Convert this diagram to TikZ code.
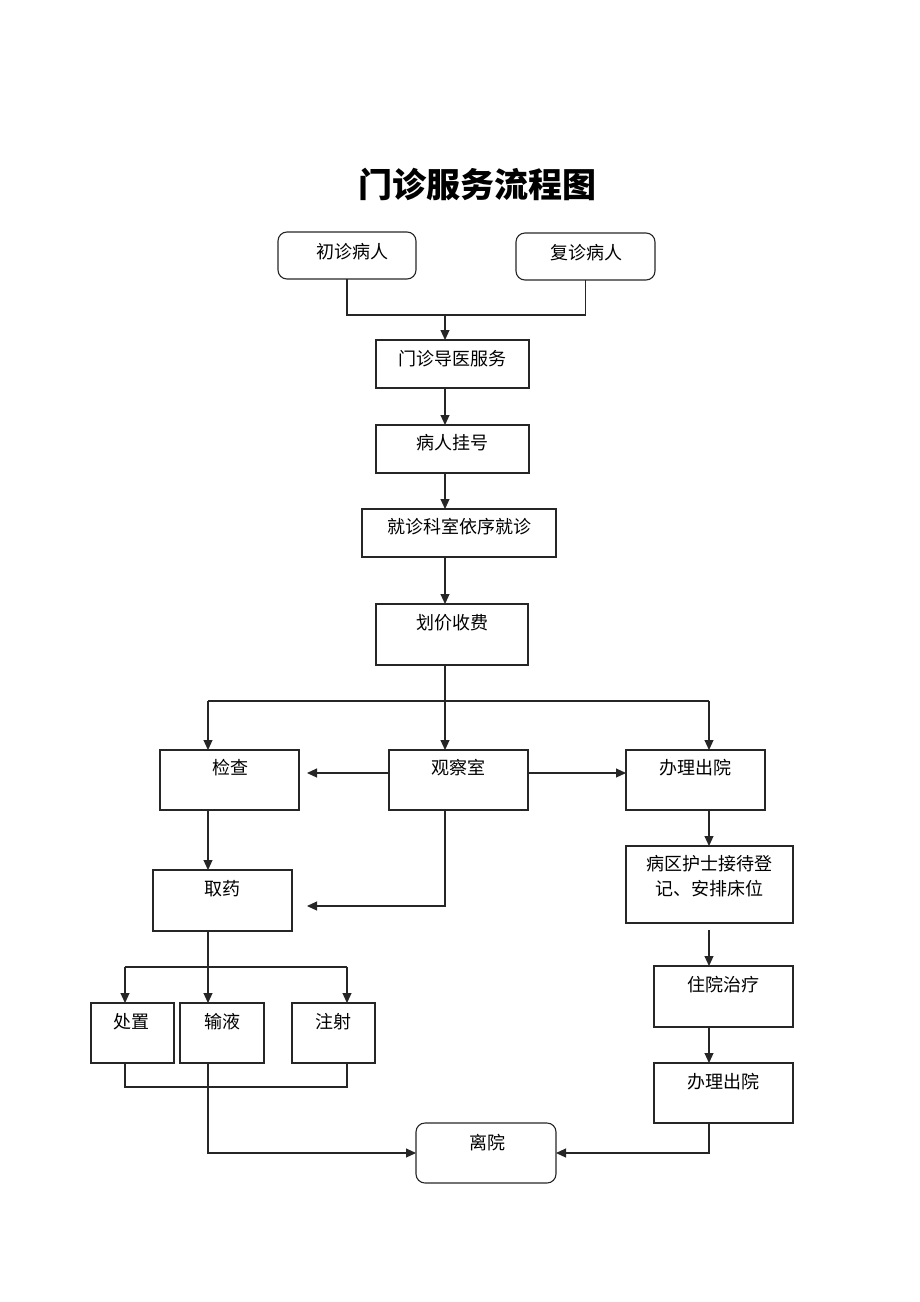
\documentclass[tikz,border=0pt]{standalone}
\usepackage{fontspec}
\newfontfamily\cjk{Noto Sans CJK SC}
\usetikzlibrary{arrows.meta}
\begin{document}
\begin{tikzpicture}[x=1pt,y=-1pt,
  box/.style={draw=black!85,line width=1.1pt,inner sep=0pt,outer sep=0pt,minimum width=#1},
  rbox/.style={box=#1,rounded corners=9pt},
  txt/.style={font=\cjk\fontsize{18}{24}\selectfont,inner sep=0pt,align=center},
  ln/.style={draw=black!85,line width=1.1pt},
  arr/.style={ln,-{Triangle[length=10pt,width=9pt]}}]
\useasboundingbox (0,0) rectangle (920,1302);
% title
\node[font=\cjk\bfseries\fontsize{34}{40}\selectfont,inner sep=0pt] (title) at (477,184) {门诊服务流程图};
% boxes
\node[rbox=138pt,minimum height=47pt] (cz) at (347,255.5) {};
\node[txt] (czt) at (352,252) {初诊病人};
\node[rbox=139pt,minimum height=47pt] (fz) at (585.5,256.5) {};
\node[txt] (fzt) at (586,253) {复诊病人};
\node[box=153pt,minimum height=48pt] (dy) at (452.5,364) {};
\node[txt] (dyt) at (452,359) {门诊导医服务};
\node[box=153pt,minimum height=48pt] (gh) at (452.5,449) {};
\node[txt] (ght) at (452,443) {病人挂号};
\node[box=194pt,minimum height=48pt] (jz) at (459,533) {};
\node[txt] (jzt) at (459,527) {就诊科室依序就诊};
\node[box=152pt,minimum height=61pt] (hj) at (452,634.5) {};
\node[txt] (hjt) at (452,623) {划价收费};
\node[box=139pt,minimum height=60pt] (jc) at (229.5,780) {};
\node[txt] (jct) at (230,768) {检查};
\node[box=139pt,minimum height=60pt] (gc) at (458.5,780) {};
\node[txt] (gct) at (458,768) {观察室};
\node[box=139pt,minimum height=60pt] (bl) at (695.5,780) {};
\node[txt] (blt) at (695,768) {办理出院};
\node[box=139pt,minimum height=61pt] (qy) at (222.5,900.5) {};
\node[txt] (qyt) at (222,889) {取药};
\node[box=167pt,minimum height=77pt] (bq) at (709.5,884.5) {};
\node[txt,font=\cjk\fontsize{18}{25}\selectfont] (bqt) at (709,876) {病区护士接待登\\记、安排床位};
\node[box=139pt,minimum height=61pt] (zy) at (723.5,996.5) {};
\node[txt] (zyt) at (723,985) {住院治疗};
\node[box=139pt,minimum height=60pt] (bl2) at (723.5,1093) {};
\node[txt] (bl2t) at (723,1082) {办理出院};
\node[box=83pt,minimum height=60pt] (cu) at (132.5,1033) {};
\node[txt] (cut) at (131,1022) {处置};
\node[box=84pt,minimum height=60pt] (sy) at (222,1033) {};
\node[txt] (syt) at (222,1022) {输液};
\node[box=83pt,minimum height=60pt] (zs) at (333.5,1033) {};
\node[txt] (zst) at (333,1022) {注射};
\node[rbox=140pt,minimum height=60pt] (ly) at (486,1153) {};
\node[txt] (lyt) at (487,1143) {离院};
% junctions
\coordinate (j1) at (445,315);
\coordinate (j2) at (445,701);
\coordinate (jL) at (208,701);
\coordinate (jR) at (709,701);
\coordinate (jcE) at (307,773);
\coordinate (qyE) at (307,906);
\coordinate (j3) at (208,967);
\coordinate (j4) at (208,1087);
\coordinate (bqS) at (709,930);
\coordinate (cuX) at (125,967);
\coordinate (zsX) at (347,967);
% connectors
\draw[ln] (cz.south) |- (j1) -| (fz.south);
\draw[arr] (j1) -- (j1 |- dy.north);
\draw[arr] (j1 |- dy.south) -- (j1 |- gh.north);
\draw[arr] (j1 |- gh.south) -- (j1 |- jz.north);
\draw[arr] (j1 |- jz.south) -- (j1 |- hj.north);
\draw[arr] (j1 |- hj.south) -- (j1 |- gc.north);
\draw[ln] (jL) -- (jR);
\draw[arr] (jL) -- (jL |- jc.north);
\draw[arr] (jR) -- (jR |- bl.north);
\draw[arr] (gc.west |- jcE) -- (jcE);
\draw[arr] (gc.east |- jcE) -- (bl.west |- jcE);
\draw[arr] (jL |- jc.south) -- (jL |- qy.north);
\draw[arr] (j2 |- gc.south) |- (qyE);
\draw[arr] (jR |- bl.south) -- (jR |- bq.north);
\draw[arr] (bqS) -- (bqS |- zy.north);
\draw[arr] (bqS |- zy.south) -- (bqS |- bl2.north);
\draw[arr] (bqS |- bl2.south) |- (ly.east);
\draw[ln] (j3 |- qy.south) -- (j3);
\draw[ln] (cuX) -- (zsX);
\draw[arr] (j3) -- (j3 |- sy.north);
\draw[arr] (cuX) -- (cuX |- cu.north);
\draw[arr] (zsX) -- (zsX |- zs.north);
\draw[ln] (cuX |- cu.south) |- (j4) -| (zsX |- zs.south);
\draw[arr] (j3 |- sy.south) |- (ly.west);
\end{tikzpicture}
\end{document}
